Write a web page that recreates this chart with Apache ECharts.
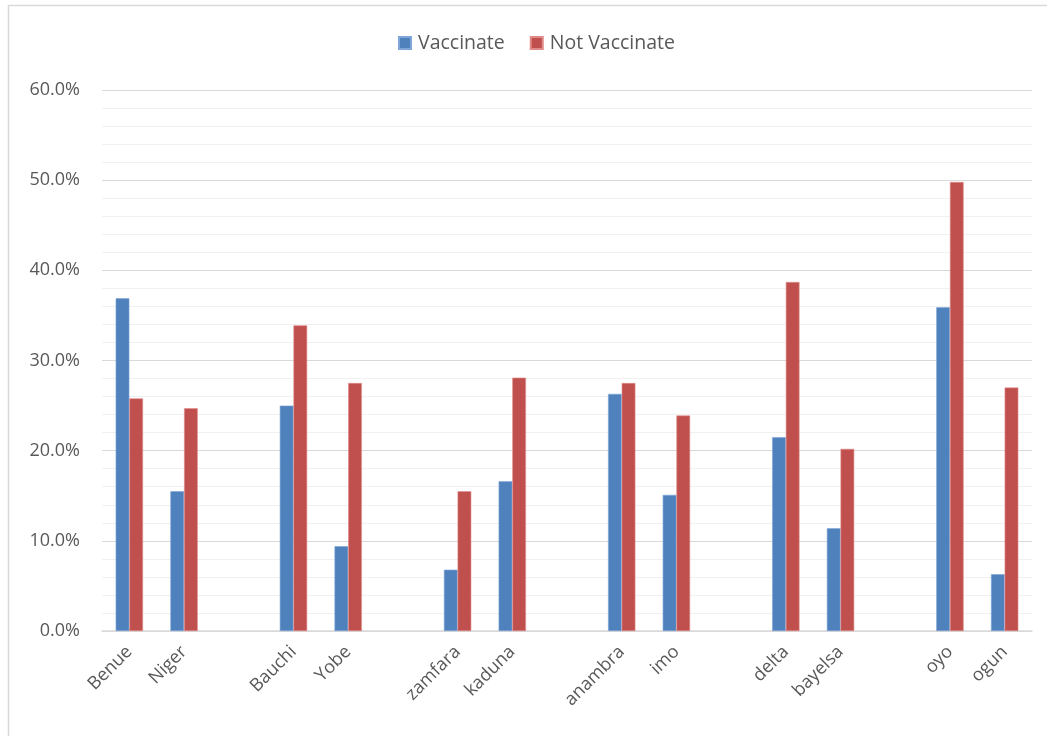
<!DOCTYPE html>
<html>
<head>
<meta charset="utf-8">
<script src="https://cdn.jsdelivr.net/npm/echarts@6/dist/echarts.min.js"></script>
<style>
  html, body { margin: 0; padding: 0; background: #ffffff; }
  #chart { width: 1047px; height: 736px; }
</style>
</head>
<body>
<div id="chart"></div>
<script>
// States grouped in pairs; blank entries leave a gap between the pairs
const categories = ['Benue', 'Niger', '', 'Bauchi', 'Yobe', '', 'zamfara', 'kaduna', '',
  'anambra', 'imo', '', 'delta', 'bayelsa', '', 'oyo', 'ogun'];
// Share of respondents, in percent ('-' = gap column)
const vaccinate = [36.9, 15.5, '-', 25.0, 9.4, '-', 6.8, 16.6, '-',
  26.3, 15.1, '-', 21.5, 11.4, '-', 35.9, 6.3];
const notVaccinate = [25.8, 24.7, '-', 33.9, 27.5, '-', 15.5, 28.1, '-',
  27.5, 23.9, '-', 38.7, 20.2, '-', 49.8, 27.0];
const yTicks = { min: 0, max: 60, interval: 10, minorSplits: 5 };

const chart = echarts.init(document.getElementById('chart'), null, { renderer: 'canvas' });
const font = 'Open Sans, Liberation Sans, sans-serif';

chart.setOption({
  animation: false,
  backgroundColor: '#ffffff',
  graphic: [{
    type: 'polyline',
    shape: { points: [[8.5, 740], [8.5, 5.5], [1050, 5.5]] },
    style: { stroke: '#d9d9d9', lineWidth: 1.5, fill: null },
    silent: true
  }],
  legend: {
    top: 28,
    left: 393,
    itemWidth: 12,
    itemHeight: 12,
    itemGap: 25,
    icon: 'rect',
    textStyle: { fontFamily: font, fontSize: 19.5, color: '#595959', padding: [0, 0, 0, 2] },
    data: ['Vaccinate', 'Not Vaccinate']
  },
  grid: { left: 102, right: 15, top: 90, bottom: 105, containLabel: false },
  xAxis: {
    type: 'category',
    data: categories,
    axisLine: { show: true, lineStyle: { color: '#d9d9d9', width: 1.5 } },
    axisTick: { show: false },
    axisLabel: {
      interval: 0,
      rotate: 45,
      margin: 18,
      fontFamily: font,
      fontSize: 18,
      color: '#595959'
    }
  },
  yAxis: {
    type: 'value',
    min: yTicks.min,
    max: yTicks.max,
    interval: yTicks.interval,
    axisLine: { show: false },
    axisTick: { show: false },
    axisLabel: {
      margin: 22,
      fontFamily: font,
      fontSize: 18,
      color: '#595959',
      formatter: v => v.toFixed(1) + '%'
    },
    splitLine: { show: true, lineStyle: { color: '#d9d9d9', width: 1.2 } },
    minorTick: { show: false, splitNumber: yTicks.minorSplits },
    minorSplitLine: { show: true, lineStyle: { color: '#f0f0f0', width: 1.2 } }
  },
  series: [
    {
      name: 'Vaccinate',
      type: 'bar',
      data: vaccinate,
      barGap: '0%',
      barCategoryGap: '50%',
      itemStyle: { color: '#4f81bd', borderColor: '#7fa6d6', borderWidth: 0.6 }
    },
    {
      name: 'Not Vaccinate',
      type: 'bar',
      data: notVaccinate,
      barGap: '0%',
      barCategoryGap: '50%',
      itemStyle: { color: '#c0504d', borderColor: '#e08b89', borderWidth: 0.6 }
    }
  ]
});
</script>
</body>
</html>
